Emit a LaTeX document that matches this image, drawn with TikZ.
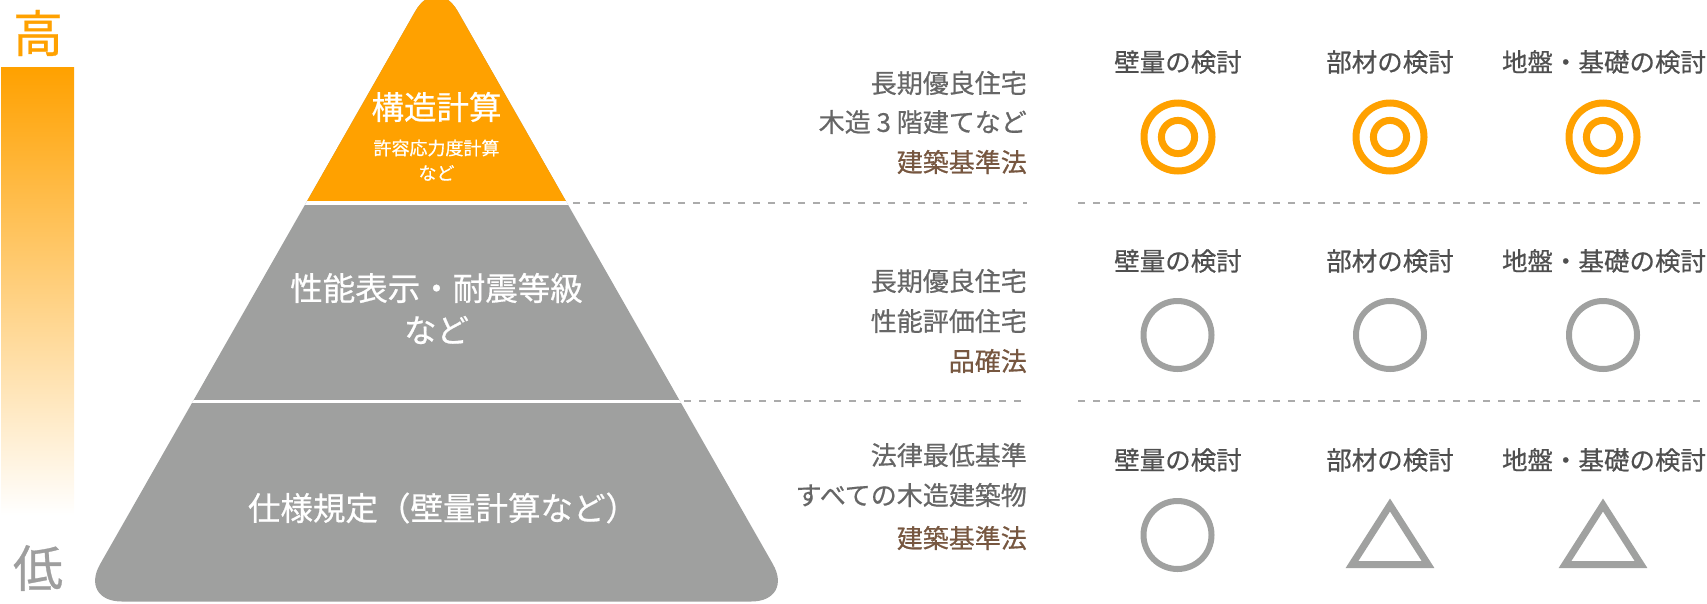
\documentclass[tikz,border=0pt]{standalone}
\usepackage{fontspec}
\setmainfont{Noto Sans CJK JP}[FakeBold=0.6]
\definecolor{ora}{HTML}{FFA100}
\definecolor{pgray}{HTML}{9FA09F}
\definecolor{symgray}{HTML}{A0A1A0}
\definecolor{dashgray}{HTML}{ABABAB}
\definecolor{hdrgray}{HTML}{4F4F4F}
\definecolor{lftgray}{HTML}{666666}
\definecolor{lawbrown}{HTML}{775740}
\definecolor{lowgray}{HTML}{9E9E9E}
\begin{document}
\begin{tikzpicture}[x=1pt,y=-1pt,
  lbl/.style={inner sep=0pt,font=\fontsize{25.5}{30}\selectfont},
  hdr/.style={lbl,text=hdrgray},
  lft/.style={inner sep=0pt,font=\fontsize{26}{30}\selectfont,text=lftgray,anchor=east},
  law/.style={lft,text=lawbrown},
  big/.style={inner sep=0pt,text=white,font=\fontsize{32.5}{38}\selectfont},
  small/.style={inner sep=0pt,text=white,font=\fontsize{18}{22}\selectfont},
  levellbl/.style={inner sep=0pt,font=\fontsize{50}{56}\selectfont},
  osym/.style={draw=ora,line width=7pt},
  gsym/.style={draw=symgray,line width=6pt},
  tsym/.style={draw=symgray,line width=7pt,line join=miter},
  dsh/.style={draw=dashgray,line width=2pt,dash pattern=on 7pt off 8pt}]
\useasboundingbox (0,0) rectangle (1707,603);

% scale bar
\shade[top color=ora,middle color=ora!55!white,bottom color=white] (1,67.5) rectangle (74,515);
\node[levellbl,text=ora] (high) at (38,33) {高};
\node[levellbl,text=lowgray] (low) at (38,568) {低};

% pyramid
\begin{scope}
\clip[rounded corners=43pt] (436.5,601.5) -- (78.8,601.5) -- (436.5,-26) -- (794.2,601.5) -- cycle;
\fill[pgray] (0,-40) rectangle (900,620);
\fill[ora] (0,-40) rectangle (900,200.7);
\fill[white] (0,200.7) rectangle (900,204.7);
\fill[white] (0,399.5) rectangle (900,403);
\end{scope}

\node[big] (t1) at (436.5,107) {構造計算};
\node[small] (t1b) at (436.5,148) {許容応力度計算};
\node[small] (t1c) at (436.5,173) {など};
\node[big] (t2) at (436.5,288) {性能表示・耐震等級};
\node[big] (t2b) at (436.5,330) {など};
\node[big] (t3) at (443,508) {仕様規定（壁量計算など）};

% dashed separators
\coordinate (d1a) at (573,202.7);
\coordinate (d1b) at (1027,202.7);
\coordinate (d1c) at (1078,202.7);
\coordinate (d1d) at (1704,202.7);
\coordinate (d2a) at (684,401.3);
\coordinate (d2b) at (1027,401.3);
\coordinate (d2c) at (1078,401.3);
\coordinate (d2d) at (1704,401.3);
\draw[dsh] (d1a) -- (d1b);
\draw[dsh] (d1c) -- (d1d);
\draw[dsh] (d2a) -- (d2b);
\draw[dsh] (d2c) -- (d2d);

% left column
\node[lft] (l1a) at (1027,83) {長期優良住宅};
\node[lft] (l1b) at (1027,122) {木造 3 階建てなど};
\node[law] (l1c) at (1027,162) {建築基準法};
\node[lft] (l2a) at (1027,281) {長期優良住宅};
\node[lft] (l2b) at (1027,321) {性能評価住宅};
\node[law] (l2c) at (1027,361) {品確法};
\node[lft] (l3a) at (1027,455) {法律最低基準};
\node[lft] (l3b) at (1027,495) {すべての木造建築物};
\node[law] (l3c) at (1027,538) {建築基準法};

% headers
\foreach \r/\y in {1/62,2/261,3/460}{
  \node[hdr] (h\r a) at (1178,\y) {壁量の検討};
  \node[hdr] (h\r b) at (1390,\y) {部材の検討};
  \node[hdr] (h\r c) at (1604,\y) {地盤・基礎の検討};
}

% symbols
\coordinate (c1a) at (1178,137);
\coordinate (c1b) at (1390,137);
\coordinate (c1c) at (1603,137);
\foreach \c in {c1a,c1b,c1c}{
  \draw[osym] (\c) circle[radius=34pt];
  \draw[osym] (\c) circle[radius=16.6pt];
}
\coordinate (c2a) at (1177.5,335);
\coordinate (c2b) at (1390,335);
\coordinate (c2c) at (1603,335);
\foreach \c in {c2a,c2b,c2c}{
  \draw[gsym] (\c) circle[radius=34pt];
}
\coordinate (c3a) at (1177.5,535);
\coordinate (c3b) at (1390,535);
\coordinate (c3c) at (1603,535);
\draw[gsym] (c3a) circle[radius=34pt];
\draw[tsym,shift={(c3b)}] (-38,29.5) -- (0,-30) -- (38,29.5) -- cycle;
\draw[tsym,shift={(c3c)}] (-38,29.5) -- (0,-30) -- (38,29.5) -- cycle;
\end{tikzpicture}
\end{document}
